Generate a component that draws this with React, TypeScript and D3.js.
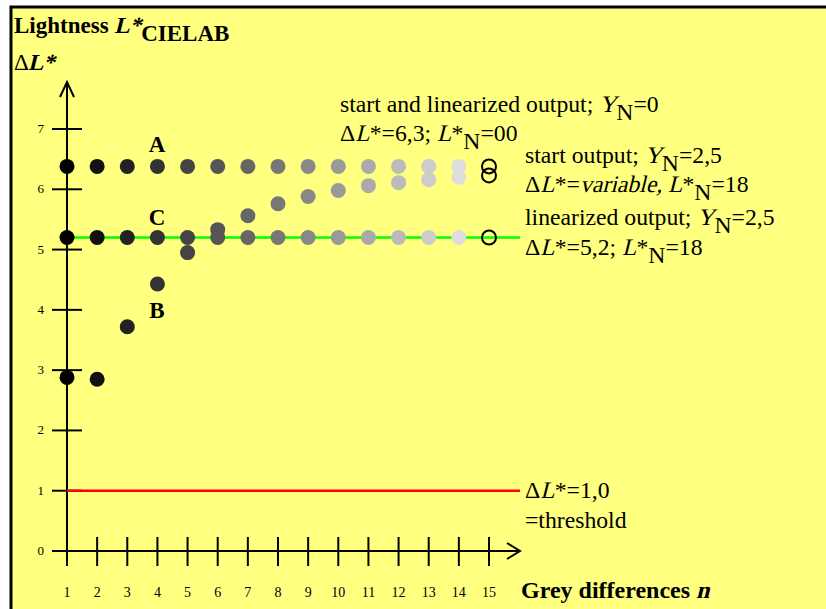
import React, { useEffect, useRef } from 'react';
import * as d3 from 'd3';

// grey differences n = 1..15
const steps = d3.range(1, 16);
// series A: start and linearized output, Y_N = 0
const seriesA = [6.38, 6.38, 6.38, 6.38, 6.38, 6.38, 6.38, 6.38, 6.38, 6.38, 6.38, 6.38, 6.38, 6.38, 6.38];
// series B: start output, Y_N = 2,5
const seriesB = [2.88, 2.85, 3.72, 4.43, 4.95, 5.33, 5.56, 5.76, 5.88, 5.98, 6.06, 6.11, 6.16, 6.20, 6.23];
// series C: linearized output, Y_N = 2,5
const seriesC = [5.2, 5.2, 5.2, 5.2, 5.2, 5.2, 5.2, 5.2, 5.2, 5.2, 5.2, 5.2, 5.2, 5.2, 5.2];
const greys = ['#000', '#111', '#222', '#333', '#444', '#555', '#666', '#777', '#888', '#999', '#aaa', '#bbb', '#ccc', '#ddd'];
const yTicks = [0, 1, 2, 3, 4, 5, 6, 7];
const thresholdValue = 1.0;
const linearValue = 5.2;

const FONT = '"Liberation Serif", "Times New Roman", serif';

type Seg = { t: string; i?: boolean; sub?: boolean };

// text made of pieces; italic pieces are slanted by hand so they keep the serif face
const Rich = ({ x, y, segs, size = 23.7, bold = false }: { x: number; y: number; segs: Seg[]; size?: number; bold?: boolean }) => {
    const ref = useRef<SVGGElement>(null);
    useEffect(() => {
        const g = d3.select(ref.current);
        g.selectAll('*').remove();
        let cx = 0;
        segs.forEach(s => {
            const dy = s.sub ? size * 0.33 : 0;
            const t = g.append('text')
                .attr('font-family', FONT)
                .attr('font-size', size)
                .attr('font-weight', bold ? 'bold' : 'normal')
                .style('white-space', 'pre')
                .attr('fill', '#000')
                .text(s.t);
            t.attr('transform', `translate(${cx},${dy})` + (s.i ? ' skewX(-14)' : ''));
            cx += (t.node() as SVGTextElement).getComputedTextLength();
        });
    }, [segs, size, bold]);
    return <g ref={ref} transform={`translate(${x},${y})`} />;
};

const App = () => {
    const width = 826;
    const height = 609;

    const x = d3.scaleLinear().domain([1, 15]).range([67, 489]);
    const y = d3.scaleLinear().domain([0, 7]).range([551, 129]);

    const x0 = x(1);
    const y0 = y(0);
    const lineEnd = 520;

    const dots = (vals: number[], key: string) =>
        vals.map((v, k) => k < 14
            ? <circle key={key + k} cx={x(steps[k])} cy={y(v)} r={7.5} fill={greys[k]} />
            : <circle key={key + k} cx={x(steps[k])} cy={y(v)} r={7} fill="none" stroke="#000" strokeWidth={2} />);

    return (
        <svg width={width} height={height} style={{ position: 'absolute', left: 0, top: 0 }}>
            <rect x={0} y={0} width={width} height={height} fill="#fff" />
            <rect x={11} y={7} width={width + 20} height={height + 20} fill="#ffff80" stroke="#000" strokeWidth={3} />

            {/* title */}
            <Rich x={14} y={33} size={23} bold segs={[{ t: 'Lightness ' }, { t: 'L*', i: true }, { t: 'CIELAB', sub: true }]} />
            <Rich x={14} y={70} size={23} segs={[{ t: 'Δ' }]} />
            <Rich x={28} y={70} size={23} bold segs={[{ t: 'L*', i: true }]} />

            {/* y axis */}
            <line x1={x0} x2={x0} y1={y0 + 15} y2={82} stroke="#000" strokeWidth={2} />
            <polyline points={`${x0 - 7},97 ${x0},82 ${x0 + 7},97`} fill="none" stroke="#000" strokeWidth={2} />
            {yTicks.map(t => (
                <g key={'yt' + t}>
                    <line x1={x0 - 15} x2={x0 + 15} y1={y(t)} y2={y(t)} stroke="#000" strokeWidth={2} />
                    <text x={44} y={y(t) + 4} textAnchor="end" fontFamily={FONT} fontSize={13}>{t}</text>
                </g>
            ))}

            {/* reference lines */}
            <line x1={x0} x2={lineEnd} y1={y(linearValue)} y2={y(linearValue)} stroke="#00ff00" strokeWidth={2.5} />
            <line x1={x0} x2={lineEnd} y1={y(thresholdValue)} y2={y(thresholdValue)} stroke="#ff0000" strokeWidth={2.5} />

            {/* x axis */}
            <line x1={x0 - 15} x2={lineEnd} y1={y0} y2={y0} stroke="#000" strokeWidth={2} />
            <polyline points={`${lineEnd - 13},${y0 - 8} ${lineEnd},${y0} ${lineEnd - 13},${y0 + 8}`} fill="none" stroke="#000" strokeWidth={2} />
            {steps.map(n => (
                <g key={'xt' + n}>
                    <line x1={x(n)} x2={x(n)} y1={y0 - 14} y2={y0 + 15} stroke="#000" strokeWidth={2} />
                    <text x={x(n)} y={597} textAnchor="middle" fontFamily={FONT} fontSize={14}>{n}</text>
                </g>
            ))}
            <Rich x={521} y={598} size={24} bold segs={[{ t: 'Grey differences ' }, { t: 'n', i: true }]} />

            {/* data */}
            {dots(seriesA, 'a')}
            {dots(seriesC, 'c')}
            {dots(seriesB, 'b')}

            {/* series letters */}
            <text x={157} y={152} textAnchor="middle" fontFamily={FONT} fontSize={23} fontWeight="bold">A</text>
            <text x={157} y={225} textAnchor="middle" fontFamily={FONT} fontSize={23} fontWeight="bold">C</text>
            <text x={157} y={318} textAnchor="middle" fontFamily={FONT} fontSize={23} fontWeight="bold">B</text>

            {/* annotations */}
            <Rich x={340} y={112} segs={[{ t: 'start and linearized output; ' }, { t: 'Y', i: true }, { t: 'N', sub: true }, { t: '=0' }]} />
            <Rich x={340} y={141} segs={[{ t: 'Δ' }, { t: 'L', i: true }, { t: '*=6,3; ' }, { t: 'L', i: true }, { t: '*' }, { t: 'N', sub: true }, { t: '=00' }]} />
            <Rich x={525} y={163} segs={[{ t: 'start output; ' }, { t: 'Y', i: true }, { t: 'N', sub: true }, { t: '=2,5' }]} />
            <Rich x={525} y={192} segs={[{ t: 'Δ' }, { t: 'L', i: true }, { t: '*=' }, { t: 'variable,', i: true }, { t: ' ' }, { t: 'L', i: true }, { t: '*' }, { t: 'N', sub: true }, { t: '=18' }]} />
            <Rich x={525} y={225} segs={[{ t: 'linearized output; ' }, { t: 'Y', i: true }, { t: 'N', sub: true }, { t: '=2,5' }]} />
            <Rich x={525} y={255} segs={[{ t: 'Δ' }, { t: 'L', i: true }, { t: '*=5,2; ' }, { t: 'L', i: true }, { t: '*' }, { t: 'N', sub: true }, { t: '=18' }]} />
            <Rich x={525} y={498} segs={[{ t: 'Δ' }, { t: 'L', i: true }, { t: '*=1,0' }]} />
            <Rich x={525} y={528} segs={[{ t: '=threshold' }]} />
        </svg>
    );
};

export default App;
